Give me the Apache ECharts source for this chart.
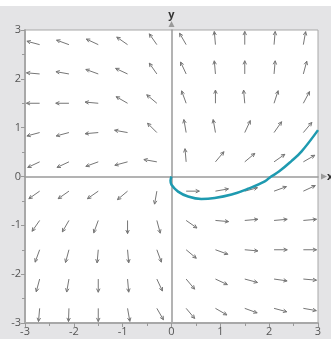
<!DOCTYPE html>
<html>
<head>
<meta charset="utf-8">
<script src="https://cdn.jsdelivr.net/npm/echarts@6/dist/echarts.min.js"></script>
<style>
  html, body { margin: 0; padding: 0; background: #fff; }
  #chart { width: 331px; height: 339px; }
</style>
</head>
<body>
<div id="chart"></div>
<script>
// Grid points of the direction field (arrow tails)
const gridX = [-2.7, -2.1, -1.5, -0.9, -0.3, 0.3, 0.9, 1.5, 2.1, 2.7];
const gridY = [2.7, 2.1, 1.5, 0.9, 0.3, -0.3, -0.9, -1.5, -2.1, -2.7];

// Arrow direction in degrees (counter-clockwise from +x), one row per gridY value
const arrowAngles = [
  [165, 160, 155, 145, 125, 120, 95, 90, 85, 80],
  [175, 170, 160, 155, 125, 115, 95, 90, 85, 75],
  [180, 180, 175, 150, 140, 110, 90, 95, 72, 62],
  [195, 195, 185, 170, 135, 100, 100, 65, 55, 50],
  [205, 205, 200, 195, 170, 95, 50, 40, 35, 30],
  [215, 215, 215, 220, 260, 0, 10, 15, 20, 25],
  [235, 240, 250, 270, 285, -35, -5, 5, 5, 5],
  [250, 255, 265, 275, 290, -40, -20, -5, 0, 0],
  [255, 260, 270, 275, 295, -50, -25, -15, -8, -5],
  [265, 268, 270, 280, 300, -50, -30, -20, -15, -10]
];

// Solution curve
const curveX = [0, -0.02, 0, 0.135, 0.34, 0.61, 0.885, 1.23, 1.57, 1.91, 2.04, 2.2, 2.45, 2.66, 3.0];
const curveY = [0, -0.08, -0.17, -0.31, -0.41, -0.46, -0.44, -0.37, -0.25, -0.10, 0, 0.1, 0.31, 0.51, 0.95];

const arrowLen = 0.27;

const arrowData = [];
gridY.forEach((y, r) => {
  gridX.forEach((x, c) => arrowData.push([x, y, arrowAngles[r][c]]));
});

function renderArrow(params, api) {
  const x = api.value(0), y = api.value(1);
  const a = api.value(2) * Math.PI / 180;
  const p0 = api.coord([x, y]);
  const p1 = api.coord([x + arrowLen * Math.cos(a), y + arrowLen * Math.sin(a)]);
  const ang = Math.atan2(p1[1] - p0[1], p1[0] - p0[0]);
  const h = 4, spread = 0.45;
  const left = [p1[0] - h * Math.cos(ang - spread), p1[1] - h * Math.sin(ang - spread)];
  const right = [p1[0] - h * Math.cos(ang + spread), p1[1] - h * Math.sin(ang + spread)];
  return {
    type: 'group',
    children: [
      { type: 'line', shape: { x1: p0[0], y1: p0[1], x2: p1[0], y2: p1[1] },
        style: { stroke: '#767676', lineWidth: 1 } },
      { type: 'polyline', shape: { points: [left, p1, right] },
        style: { stroke: '#767676', fill: null, lineWidth: 1 } }
    ]
  };
}

const chart = echarts.init(document.getElementById('chart'), null, { renderer: 'canvas' });

const labelStyle = { color: '#555', fontSize: 11, fontFamily: 'Open Sans' };
const nameStyle = { color: '#333', fontWeight: 'bold', fontSize: 11, fontFamily: 'Open Sans' };

// frame axes (left / bottom)
const frameAxis = {
  type: 'value',
  min: -3,
  max: 3,
  interval: 1,
  axisLine: { onZero: false, lineStyle: { color: '#a8a8a8', width: 2 } },
  axisTick: { show: true, length: 4, lineStyle: { color: '#999' } },
  minorTick: { show: true, splitNumber: 2, length: 3, lineStyle: { color: '#999' } },
  splitLine: { show: false }
};

// axes through the origin, with arrows
const zeroAxis = {
  type: 'value',
  min: -3,
  max: 3,
  axisLine: {
    onZero: true, onZeroAxisIndex: 0,
    symbol: ['none', 'triangle'], symbolSize: [6, 6], symbolOffset: [0, 6],
    lineStyle: { color: '#9a9a9a', width: 1.5 }
  },
  axisTick: { show: false },
  axisLabel: { show: false },
  splitLine: { show: false },
  nameLocation: 'end',
  nameTextStyle: nameStyle
};

chart.setOption({
  animation: false,
  backgroundColor: '#e4e4e6',
  graphic: [
    { type: 'rect', left: 0, top: 0, shape: { width: 331, height: 6 }, style: { fill: '#fff' }, z: -1 }
  ],
  grid: {
    left: 25, right: 13, top: 30, bottom: 16,
    containLabel: false,
    outerBoundsMode: 'none',
    show: true, backgroundColor: '#fff', borderColor: '#a8a8a8', borderWidth: 1
  },
  xAxis: [
    Object.assign({}, frameAxis, { position: 'bottom', axisLabel: Object.assign({ margin: 3 }, labelStyle) }),
    Object.assign({}, zeroAxis, { name: 'x', nameGap: 9 })
  ],
  yAxis: [
    Object.assign({}, frameAxis, { position: 'left', axisLabel: Object.assign({ margin: 4 }, labelStyle) }),
    Object.assign({}, zeroAxis, { name: 'y', nameGap: 10 })
  ],
  series: [
    {
      type: 'custom',
      renderItem: renderArrow,
      data: arrowData,
      clip: false,
      z: 3
    },
    {
      type: 'line',
      data: curveX.map((x, i) => [x, curveY[i]]),
      smooth: 0.4,
      showSymbol: false,
      clip: false,
      lineStyle: { color: '#1e9ab0', width: 2.5 },
      z: 4
    }
  ]
});
</script>
</body>
</html>
